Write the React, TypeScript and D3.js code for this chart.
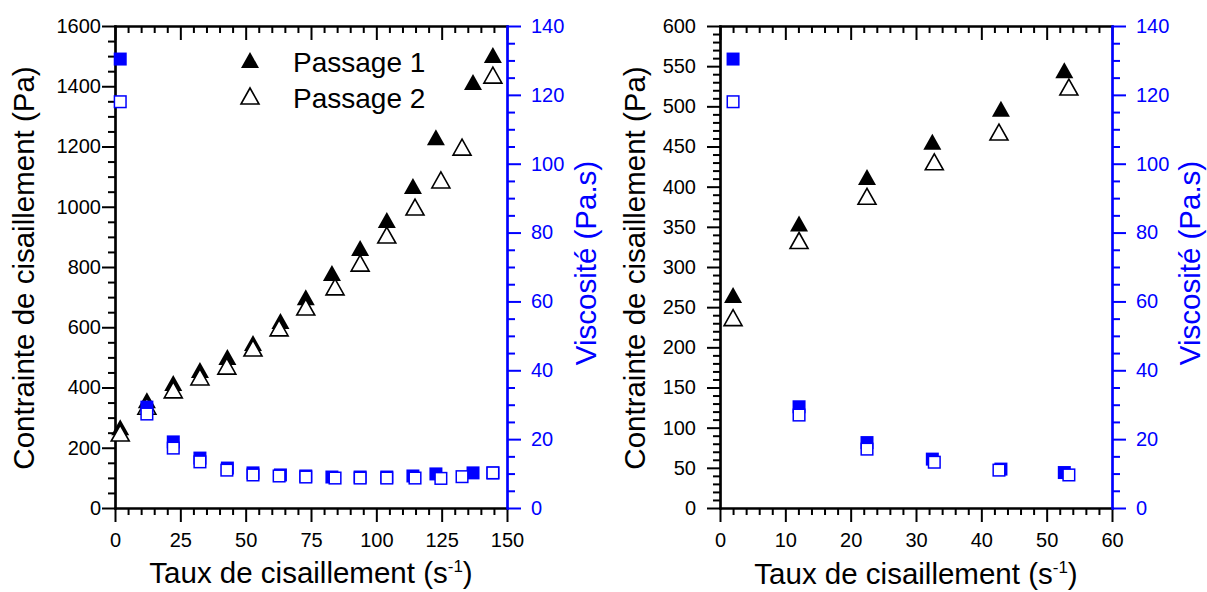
import React, { useEffect, useRef } from "react";
import * as d3 from "d3";

// ---------- Data (left panel) ----------
const leftShear1 = [2, 12.2, 22.3, 32.5, 43, 52.8, 63.3, 73, 83, 93.8, 104, 114, 122.8, 137, 144.6];
const leftStress1 = [268, 358, 415, 458, 501, 548, 621, 700, 780, 863, 956, 1069, 1231, 1414, 1504];
const leftVisc1 = [130.4, 29.3, 19.2, 14.5, 11.6, 10.2, 9.6, 9.3, 9.0, 9.0, 9.0, 9.3, 9.9, 10.2, 10.2];
const leftShear2 = [2, 12.2, 22.3, 32.5, 42.8, 52.8, 62.8, 73, 84.2, 93.8, 104, 114.8, 124.7, 132.8, 144.6];
const leftStress2 = [249, 338, 392, 435, 471, 531, 598, 667, 734, 813, 906, 999, 1089, 1198, 1437];
const leftVisc2 = [118, 27.3, 17.4, 13.4, 11.0, 9.6, 9.3, 9.0, 8.7, 8.7, 8.7, 8.7, 8.6, 9.1, 10.2];

// ---------- Data (right panel) ----------
const rightShear1 = [2, 12.1, 22.5, 32.5, 43, 52.7];
const rightStress1 = [265, 354, 412, 456, 497, 545];
const rightVisc1 = [130.4, 29.4, 19.0, 14.2, 11.3, 10.3];
const rightShear2 = [2, 12.1, 22.5, 32.8, 42.7, 53.4];
const rightStress2 = [237, 333, 388, 431, 468, 524];
const rightVisc2 = [118, 27.0, 17.1, 13.3, 11.0, 9.6];

// ---------- Axis ticks ----------
const leftXMajor = [0, 25, 50, 75, 100, 125, 150];
const leftYMajor = [0, 200, 400, 600, 800, 1000, 1200, 1400, 1600];
const rightXMajor = [0, 10, 20, 30, 40, 50, 60];
const rightYMajor = [0, 50, 100, 150, 200, 250, 300, 350, 400, 450, 500, 550, 600];
const viscMajor = [0, 20, 40, 60, 80, 100, 120, 140];

const legendLabels = ["Passage 1", "Passage 2"];

const W = 1207;
const H = 592;
const FONT = '"Liberation Sans", Arial, Helvetica, sans-serif';
const BLUE = "#0000ff";
const TOP = 26;
const BOTTOM = 508;
const TITLE_SIZE = 29.5;

function minorTicks(max: number, step: number, major: number[]) {
  const out: number[] = [];
  for (let i = 0; i * step <= max + 1e-9; i++) {
    const v = +(i * step).toFixed(6);
    if (!major.some((m) => Math.abs(m - v) < 1e-6)) out.push(v);
  }
  return out;
}

function styleAxis(sel: any, color: string, fontSize: number) {
  sel.select(".domain").attr("stroke", color).attr("stroke-width", 2.2).attr("stroke-linecap", "square");
  sel.selectAll(".tick line").attr("stroke", color).attr("stroke-width", 2);
  sel.selectAll(".tick text").attr("fill", color).attr("font-size", fontSize).attr("font-family", FONT);
}

type Panel = {
  x0: number;
  x1: number;
  xMax: number;
  xMajor: number[];
  xMinorStep: number;
  yMax: number;
  yMajor: number[];
  yMinorStep: number;
  yLabelPad: number;
  shear1: number[];
  stress1: number[];
  visc1: number[];
  shear2: number[];
  stress2: number[];
  visc2: number[];
  yTitleX: number;
  vTitleX: number;
  xTitleY: number;
  legend: boolean;
};

function drawPanel(svg: any, p: Panel) {
  const x = d3.scaleLinear().domain([0, p.xMax]).range([p.x0, p.x1]);
  const y = d3.scaleLinear().domain([0, p.yMax]).range([BOTTOM, TOP]);
  const yv = d3.scaleLinear().domain([0, 140]).range([BOTTOM, TOP]);
  const xMinor = minorTicks(p.xMax, p.xMinorStep, p.xMajor);
  const yMinor = minorTicks(p.yMax, p.yMinorStep, p.yMajor);
  const vMinor = minorTicks(140, 5, viscMajor);

  const g = svg.append("g");

  // bottom axis
  const gb1 = g.append("g").attr("transform", `translate(0,${BOTTOM})`)
    .call(d3.axisBottom(x).tickValues(xMinor).tickSize(7).tickSizeOuter(0).tickFormat(() => ""));
  styleAxis(gb1, "#000", 20);
  const gb2 = g.append("g").attr("transform", `translate(0,${BOTTOM})`)
    .call(d3.axisBottom(x).tickValues(p.xMajor).tickSize(14).tickSizeOuter(0).tickPadding(11).tickFormat(d3.format("d")));
  styleAxis(gb2, "#000", 20);

  // top axis (ticks inward)
  const gt1 = g.append("g").attr("transform", `translate(0,${TOP})`)
    .call(d3.axisTop(x).tickValues(xMinor).tickSize(-7).tickSizeOuter(0).tickFormat(() => ""));
  styleAxis(gt1, "#000", 20);
  const gt2 = g.append("g").attr("transform", `translate(0,${TOP})`)
    .call(d3.axisTop(x).tickValues(p.xMajor).tickSize(-14).tickSizeOuter(0).tickFormat(() => ""));
  styleAxis(gt2, "#000", 20);

  // left axis
  const gl1 = g.append("g").attr("transform", `translate(${p.x0},0)`)
    .call(d3.axisLeft(y).tickValues(yMinor).tickSize(7).tickSizeOuter(0).tickFormat(() => ""));
  styleAxis(gl1, "#000", 20);
  const gl2 = g.append("g").attr("transform", `translate(${p.x0},0)`)
    .call(d3.axisLeft(y).tickValues(p.yMajor).tickSize(13).tickSizeOuter(0).tickPadding(p.yLabelPad).tickFormat(d3.format("d")));
  styleAxis(gl2, "#000", 20);

  // right axis (blue viscosity)
  const gr1 = g.append("g").attr("transform", `translate(${p.x1},0)`)
    .call(d3.axisRight(yv).tickValues(vMinor).tickSize(8).tickSizeOuter(0).tickFormat(() => ""));
  styleAxis(gr1, BLUE, 20);
  const gr2 = g.append("g").attr("transform", `translate(${p.x1},0)`)
    .call(d3.axisRight(yv).tickValues(viscMajor).tickSize(14).tickSizeOuter(0).tickPadding(10).tickFormat(d3.format("d")));
  styleAxis(gr2, BLUE, 20);

  // titles
  const xt = g.append("text")
    .attr("x", (p.x0 + p.x1) / 2)
    .attr("y", p.xTitleY)
    .attr("text-anchor", "middle")
    .attr("font-family", FONT)
    .attr("font-size", TITLE_SIZE)
    .attr("fill", "#000");
  xt.append("tspan").text("Taux de cisaillement (s");
  xt.append("tspan").attr("font-size", 17).attr("dy", -11).text("-1");
  xt.append("tspan").attr("dy", 11).text(")");

  g.append("text")
    .attr("transform", `translate(${p.yTitleX},${(TOP + BOTTOM) / 2 + 1}) rotate(-90)`)
    .attr("text-anchor", "middle")
    .attr("font-family", FONT)
    .attr("font-size", TITLE_SIZE)
    .attr("fill", "#000")
    .text("Contrainte de cisaillement (Pa)");

  g.append("text")
    .attr("transform", `translate(${p.vTitleX},${(TOP + BOTTOM) / 2 - 4}) rotate(-90)`)
    .attr("text-anchor", "middle")
    .attr("font-family", FONT)
    .attr("font-size", TITLE_SIZE)
    .attr("fill", BLUE)
    .text("Viscosité (Pa.s)");

  // markers
  const tri = (cx: number, cy: number) => `M${cx - 9},${cy + 8}L${cx + 9},${cy + 8}L${cx},${cy - 8}Z`;
  const d1 = p.shear1.map((s, i) => ({ s, t: p.stress1[i], v: p.visc1[i] }));
  const d2 = p.shear2.map((s, i) => ({ s, t: p.stress2[i], v: p.visc2[i] }));

  g.append("g").selectAll("path").data(d1).join("path")
    .attr("d", (d: any) => tri(x(d.s), y(d.t)))
    .attr("fill", "#000");
  g.append("g").selectAll("path").data(d2).join("path")
    .attr("d", (d: any) => tri(x(d.s), y(d.t)))
    .attr("fill", "#fff").attr("stroke", "#000").attr("stroke-width", 1.6).attr("stroke-linejoin", "miter");
  g.append("g").selectAll("rect").data(d1).join("rect")
    .attr("x", (d: any) => x(d.s) - 6.5).attr("y", (d: any) => yv(d.v) - 6.5)
    .attr("width", 13).attr("height", 13).attr("fill", BLUE);
  g.append("g").selectAll("rect").data(d2).join("rect")
    .attr("x", (d: any) => x(d.s) - 5.8).attr("y", (d: any) => yv(d.v) - 5.8)
    .attr("width", 11.6).attr("height", 11.6).attr("fill", "#fff")
    .attr("stroke", BLUE).attr("stroke-width", 1.5);

  if (p.legend) {
    const lg = g.append("g");
    const rows = [60, 96];
    legendLabels.forEach((lab, i) => {
      lg.append("path")
        .attr("d", tri(250, rows[i]))
        .attr("fill", i === 0 ? "#000" : "#fff")
        .attr("stroke", i === 0 ? "none" : "#000")
        .attr("stroke-width", 1.6);
      lg.append("text")
        .attr("x", 293)
        .attr("y", rows[i] + 11.5)
        .attr("font-family", FONT)
        .attr("font-size", 28)
        .attr("fill", "#000")
        .text(lab);
    });
  }
}

export default function App() {
  const ref = useRef<SVGSVGElement | null>(null);
  useEffect(() => {
    const svg = d3.select(ref.current);
    svg.selectAll("*").remove();
    svg.append("rect").attr("width", W).attr("height", H).attr("fill", "#fff");
    drawPanel(svg, {
      x0: 115, x1: 507, xMax: 150, xMajor: leftXMajor, xMinorStep: 5,
      yMax: 1600, yMajor: leftYMajor, yMinorStep: 50, yLabelPad: 1,
      shear1: leftShear1, stress1: leftStress1, visc1: leftVisc1,
      shear2: leftShear2, stress2: leftStress2, visc2: leftVisc2,
      yTitleX: 34, vTitleX: 596, xTitleY: 583, legend: true,
    });
    drawPanel(svg, {
      x0: 720, x1: 1112, xMax: 60, xMajor: rightXMajor, xMinorStep: 2,
      yMax: 600, yMajor: rightYMajor, yMinorStep: 10, yLabelPad: 11,
      shear1: rightShear1, stress1: rightStress1, visc1: rightVisc1,
      shear2: rightShear2, stress2: rightStress2, visc2: rightVisc2,
      yTitleX: 645, vTitleX: 1200, xTitleY: 584, legend: false,
    });
  }, []);
  return (
    <svg
      ref={ref}
      width={W}
      height={H}
      style={{ position: "absolute", left: 0, top: 0, display: "block" }}
    />
  );
}
